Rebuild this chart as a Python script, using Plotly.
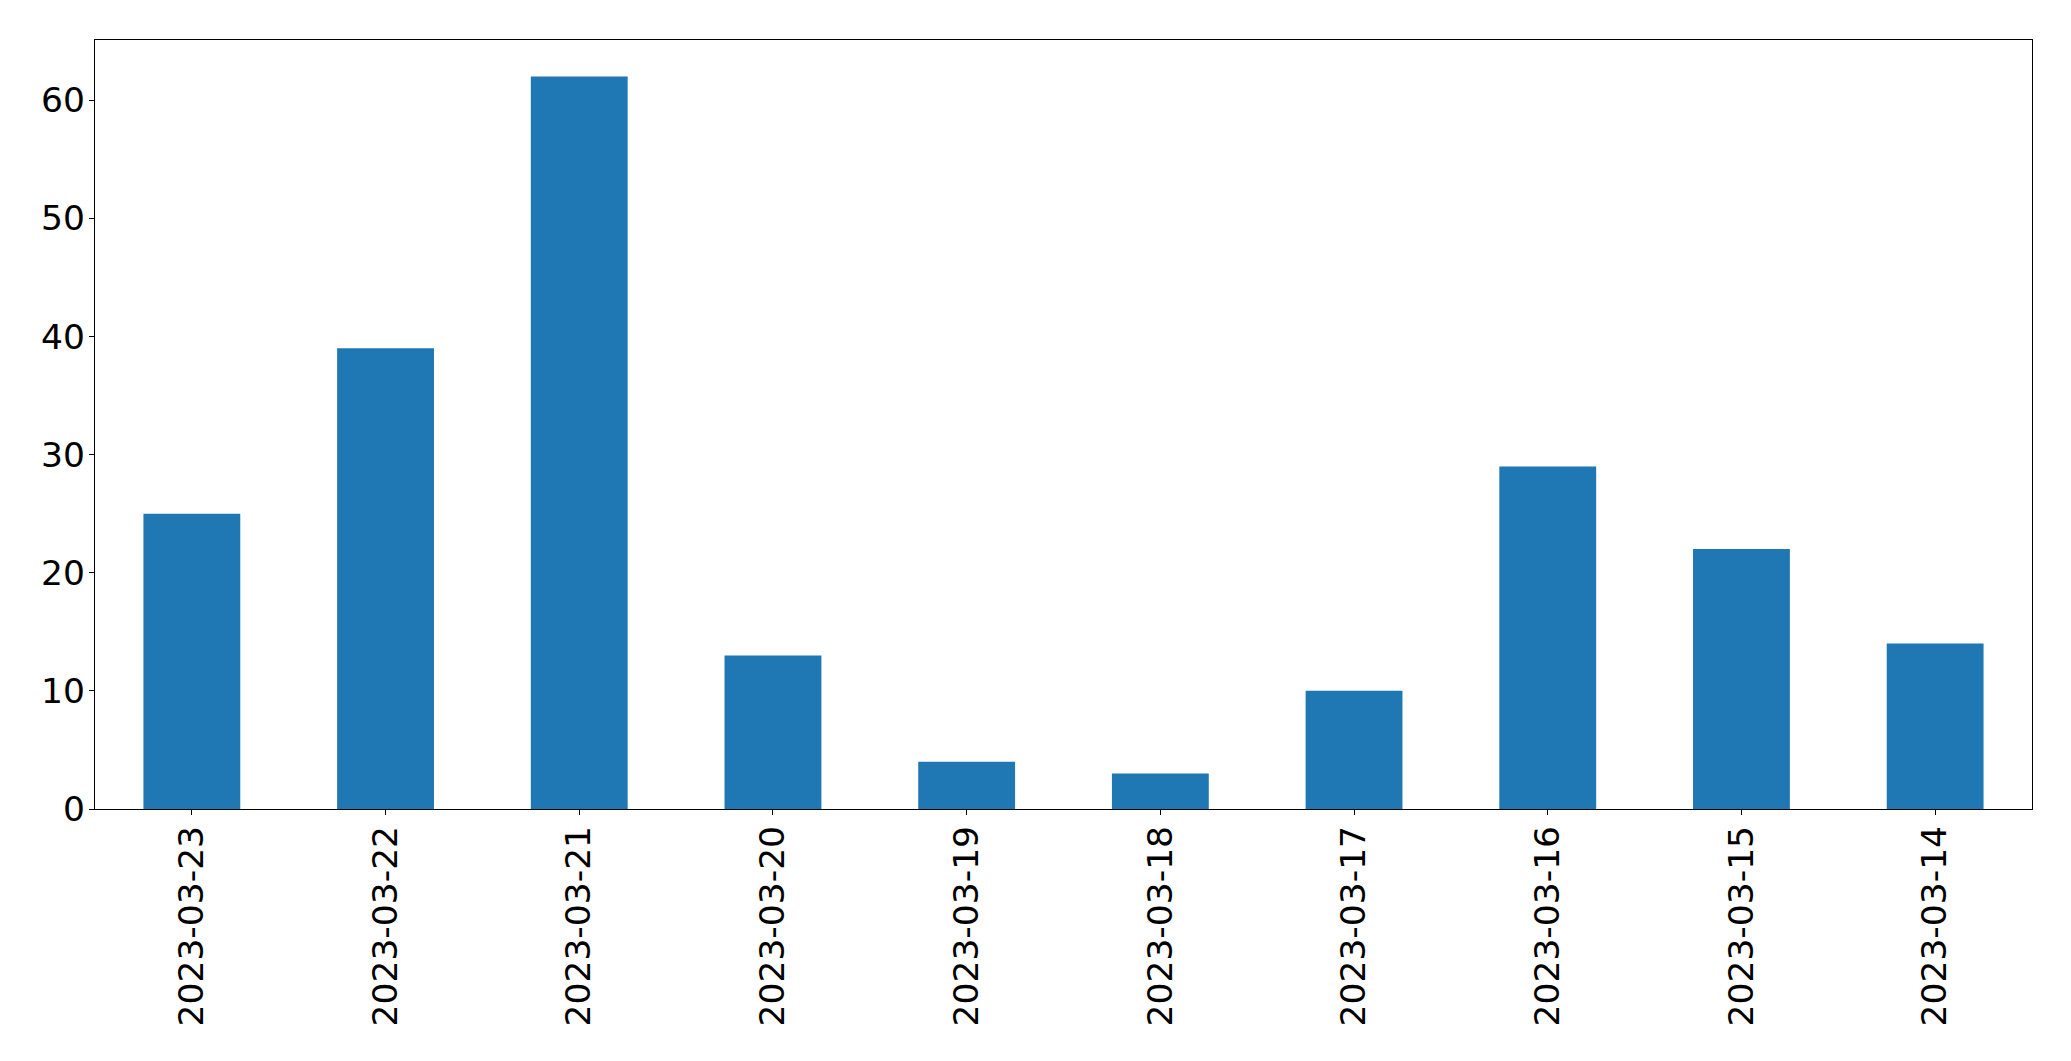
import plotly.graph_objects as go

dates = ["2023-03-23", "2023-03-22", "2023-03-21", "2023-03-20", "2023-03-19",
         "2023-03-18", "2023-03-17", "2023-03-16", "2023-03-15", "2023-03-14"]
counts = [25, 39, 62, 13, 4, 3, 10, 29, 22, 14]
y_ticks = [0, 10, 20, 30, 40, 50, 60]

fig = go.Figure(go.Bar(x=dates, y=counts, width=0.5, marker=dict(color="#1f77b4", line=dict(width=0))))

axis_common = dict(showline=True, mirror=True, linecolor="black", linewidth=1.3,
                   ticks="outside", ticklen=5, tickwidth=1.3, tickcolor="black",
                   showgrid=False, zeroline=False, ticklabelstandoff=-3,
                   tickfont=dict(family="DejaVu Sans", size=34.5, color="black"))

# page body has an 8px margin, so the figure is offset by 8px
fig.update_layout(
    width=2063, height=1053,
    margin=dict(l=86.5, r=39.3, t=31.5, b=252),
    paper_bgcolor="white", plot_bgcolor="white",
    showlegend=False,
    xaxis=dict(type="category", range=[-0.5, 9.5], tickangle=-90, **axis_common),
    yaxis=dict(range=[0, 65.1], tickvals=y_ticks, **axis_common),
)

fig.write_html("out.html")
